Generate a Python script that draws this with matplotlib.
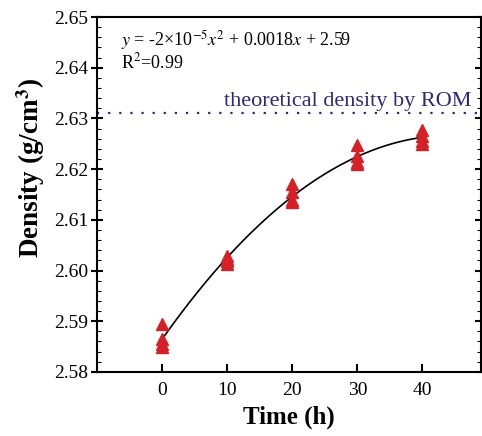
import numpy as np
import matplotlib.pyplot as plt
from matplotlib.ticker import MultipleLocator

plt.rcParams['font.family'] = ['Liberation Serif', 'DejaVu Serif']
plt.rcParams['mathtext.fontset'] = 'stix'

# measured densities, 4 samples per milling time
time_h = [0, 0, 0, 0, 10, 10, 10, 10, 20, 20, 20, 20, 30, 30, 30, 30, 40, 40, 40, 40]
density = [2.5895, 2.5865, 2.5855, 2.585,
           2.6028, 2.6022, 2.6018, 2.6012,
           2.617, 2.6155, 2.614, 2.6135,
           2.6248, 2.6225, 2.6215, 2.621,
           2.6278, 2.6265, 2.6255, 2.625]
rom_density = 2.631

fig = plt.figure(figsize=(4.82, 4.36), dpi=100)
ax = fig.add_axes([0.201, 0.147, 0.797, 0.814])

# quadratic fit through the points
coef = np.polyfit(time_h, density, 2)
xs = np.linspace(0, 40, 200)
ax.plot(xs, np.polyval(coef, xs), color='black', lw=1.2, zorder=2)

ax.plot(time_h, density, '^', color='#d62027', ms=8, mec='#d62027', zorder=3)

ax.axhline(rom_density, color='#2b2a78', ls=(0, (1, 4)), lw=1.6)
ax.text(47.6, rom_density + 0.0005, 'theoretical density by ROM', color='#2b2a78',
        fontsize=16, ha='right', va='bottom')

ax.text(-6.3, 2.6455, r'$y$ = -2×10$^{-5}$$x^2$ + 0.0018$x$ + 2.59', fontsize=13, va='center')
ax.text(-6.3, 2.6411, r'R$^2$=0.99', fontsize=13, va='center')

ax.set_xlim(-10, 49)
ax.set_ylim(2.58, 2.65)
ax.set_xticks([0, 10, 20, 30, 40])
ax.yaxis.set_major_locator(MultipleLocator(0.01))
ax.yaxis.set_minor_locator(MultipleLocator(0.002))
ax.set_yticklabels(['%.2f' % v for v in ax.get_yticks()])

ax.tick_params(axis='x', direction='in', length=6, width=1.5, labelsize=14, pad=7)
ax.tick_params(axis='y', which='major', direction='inout', length=8, width=1.5, labelsize=14,
               pad=2, right=True)
ax.tick_params(axis='y', which='minor', direction='in', length=3, width=0.8, right=True)
for s in ax.spines.values():
    s.set_linewidth(1.5)

ax.set_xlabel('Time (h)', fontsize=18, fontweight='bold')
ax.xaxis.set_label_coords(0.5, -0.095)
ax.set_ylabel('Density (g/cm$^\\mathbf{3}$)', fontsize=19.5, fontweight='bold')
ax.yaxis.set_label_coords(-0.13, 0.575)

fig.savefig('out.png', dpi=100)
